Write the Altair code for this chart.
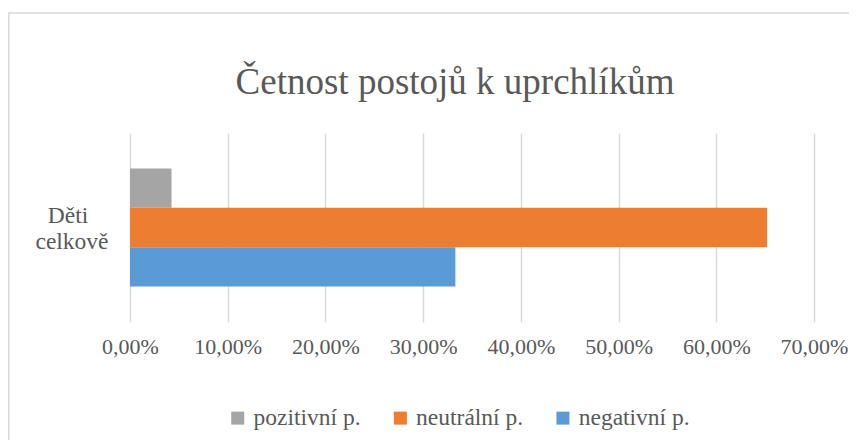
import altair as alt
import pandas as pd

title_text = "Četnost postojů k uprchlíkům"
categories = ["Děti celkově"]
series = ["pozitivní p.", "neutrální p.", "negativní p."]
values = [0.0425, 0.652, 0.333]
colors = ["#A5A5A5", "#ED7D31", "#5B9BD5"]
x_ticks = [0, 0.1, 0.2, 0.3, 0.4, 0.5, 0.6, 0.7]

df = pd.DataFrame({
    "kategorie": [categories[0]] * len(series),
    "postoj": series,
    "hodnota": values,
})
cat_df = pd.DataFrame({"kategorie": categories})

FONT = "Liberation Serif"
TXT = "#595959"
GRID = "#D9D9D9"

y_enc = alt.Y("kategorie:N",
              scale=alt.Scale(paddingInner=0, paddingOuter=0.3),
              axis=alt.Axis(title=None, domain=False, ticks=False, labels=False))

bars = alt.Chart(df).mark_bar().encode(
    x=alt.X("hodnota:Q",
            scale=alt.Scale(domain=[0, 0.7], nice=False, zero=True),
            axis=alt.Axis(values=x_ticks, title=None, domain=False, ticks=False,
                          grid=True, gridColor=GRID, gridWidth=1.5,
                          labelOverlap=False, labelFlush=False,
                          labelExpr="replace(format(datum.value, '.2%'), '.', ',')",
                          labelFont=FONT, labelFontSize=22, labelColor=TXT,
                          labelPadding=14, labelBaseline="top")),
    y=y_enc,
    yOffset=alt.YOffset("postoj:N", sort=series, scale=alt.Scale(paddingInner=0, paddingOuter=0)),
    color=alt.Color("postoj:N", sort=series,
                    scale=alt.Scale(domain=series, range=colors),
                    legend=alt.Legend(title=None, orient="none", direction="horizontal",
                                      legendX=96, legendY=273, padding=0,
                                      symbolType="square", symbolSize=169,
                                      symbolStrokeWidth=0, labelOffset=4,
                                      columnPadding=27.6,
                                      labelFont=FONT, labelFontSize=23.5,
                                      labelColor=TXT)),
)

label_base = alt.Chart(cat_df).transform_calculate(
    line1="split(datum.kategorie, ' ')[0]",
    line2="split(datum.kategorie, ' ')[1]",
)
cat_line1 = label_base.mark_text(
    font=FONT, fontSize=23.5, color=TXT, align="center", baseline="alphabetic", dy=-5
).encode(y=y_enc, x=alt.value(-62), text="line1:N")
cat_line2 = label_base.mark_text(
    font=FONT, fontSize=23.5, color=TXT, align="center", baseline="alphabetic", dy=21
).encode(y=y_enc, x=alt.value(-58), text="line2:N")

border_df = pd.DataFrame({"b": [0]})
top_line = alt.Chart(border_df).mark_rule(color=GRID, strokeWidth=1.5).encode(
    x=alt.value(-122), x2=alt.value(730), y=alt.value(-120)
)
left_line = alt.Chart(border_df).mark_rule(color=GRID, strokeWidth=1.5).encode(
    x=alt.value(-121.2), y=alt.value(-120), y2=alt.value(310)
)
title_mark = alt.Chart(pd.DataFrame({"t": [title_text]})).mark_text(
    font=FONT, fontSize=37, color=TXT, align="center", baseline="alphabetic"
).encode(x=alt.value(325), y=alt.value(-39), text="t:N")

chart = alt.layer(top_line, left_line, title_mark, bars, cat_line1, cat_line2).properties(
    width=684,
    height=189,
    padding={"left": 122, "top": 125, "right": 35, "bottom": 118},
    autosize=alt.AutoSizeParams(type="none"),
    background="white",
).configure_view(stroke=None).configure_axis(labelFont=FONT).configure_text(font=FONT)

chart.save("out.html", embed_options={"renderer": "svg", "actions": False})
